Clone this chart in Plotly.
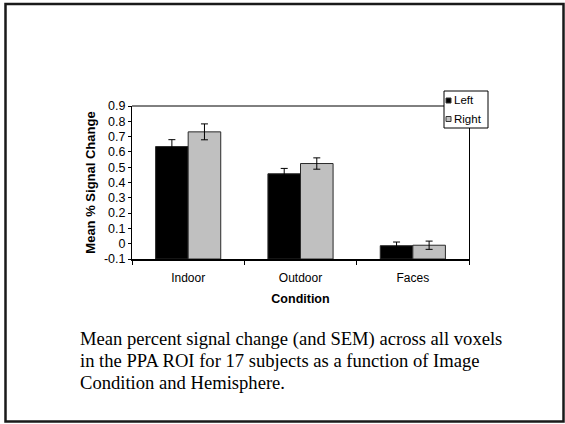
import plotly.graph_objects as go

# ---- data ----
conditions = ["Indoor", "Outdoor", "Faces"]
series_names = ["Left", "Right"]
left_vals = [0.635, 0.457, -0.013]
left_sem = [0.045, 0.035, 0.024]
right_vals = [0.731, 0.524, -0.010]
right_sem = [0.052, 0.037, 0.027]
series_colors = ["#000000", "#C0C0C0"]
y_min, y_max = -0.1, 0.9
y_ticks = [-0.1, 0, 0.1, 0.2, 0.3, 0.4, 0.5, 0.6, 0.7, 0.8, 0.9]
y_tick_labels = ["-0.1", "0", "0.1", "0.2", "0.3", "0.4", "0.5", "0.6", "0.7", "0.8", "0.9"]
caption_lines = [
    "Mean percent signal change (and SEM) across all voxels",
    "in the PPA ROI for 17 subjects as a function of Image",
    "Condition and Hemisphere.",
]

W, H = 565, 424
L, R, T, B = 132, 469, 106, 259  # plot area in pixels
PW, PH = R - L, B - T


def px2x(px):
    return (px - L) / PW


def py2y(py):
    return (B - py) / PH


fig = go.Figure()
for name, vals, sem, col in zip(series_names, [left_vals, right_vals],
                                [left_sem, right_sem], series_colors):
    # Excel-style: bars rise from the axis minimum
    fig.add_trace(go.Bar(
        x=conditions, y=[v - y_min for v in vals], base=y_min, name=name,
        marker=dict(color=col, line=dict(color="#2a2a2a", width=1)),
        error_y=dict(type="data", array=sem, visible=True,
                     color="#000000", thickness=1, width=3.5),
        showlegend=False,
    ))

shapes = []
annotations = []

# plot area top border
shapes.append(dict(type="line", xref="paper", yref="paper", x0=0, x1=1, y0=1, y1=1,
                   line=dict(color="black", width=1), layer="above"))
# outer slide frame
shapes.append(dict(type="rect", xref="paper", yref="paper",
                   x0=px2x(5.5), x1=px2x(563.5), y0=py2y(421.5), y1=py2y(4),
                   line=dict(color="#1a1a1a", width=2.5)))

# manual legend
lg_x0, lg_x1, lg_y0, lg_y1 = 444, 488, 91, 128
shapes.append(dict(type="rect", xref="paper", yref="paper",
                   x0=px2x(lg_x0), x1=px2x(lg_x1), y0=py2y(lg_y1), y1=py2y(lg_y0),
                   fillcolor="white", line=dict(color="black", width=1), layer="above"))
for i, (name, col) in enumerate(zip(series_names, series_colors)):
    cy = 100.5 + i * 18.5
    shapes.append(dict(type="rect", xref="paper", yref="paper",
                       x0=px2x(446), x1=px2x(451), y0=py2y(cy + 2.5), y1=py2y(cy - 2.5),
                       fillcolor=col, line=dict(color="#333333", width=1), layer="above"))
    annotations.append(dict(text=name, xref="paper", yref="paper",
                            x=px2x(452), y=py2y(cy), xanchor="left", yanchor="middle",
                            showarrow=False,
                            font=dict(family="Arial, Liberation Sans", size=11.5, color="black")))

# caption
for i, line in enumerate(caption_lines):
    annotations.append(dict(text=line, xref="paper", yref="paper",
                            x=px2x(78), y=py2y(338.5 + i * 21.8), xanchor="left", yanchor="middle",
                            showarrow=False,
                            font=dict(family="Liberation Serif, Times New Roman", size=18.6,
                                      color="black")))

fig.update_layout(
    width=W, height=H,
    margin=dict(l=L, r=W - R, t=T, b=H - B, pad=0),
    paper_bgcolor="white", plot_bgcolor="white",
    barmode="group", bargap=0.42, bargroupgap=0,
    font=dict(family="Arial, Liberation Sans", color="black", size=12),
    shapes=shapes, annotations=annotations,
    xaxis=dict(
        type="category", showline=True, linecolor="black", linewidth=1.5,
        ticks="outside", tickson="boundaries", ticklen=4, tickcolor="black",
        tickfont=dict(size=12), ticklabelstandoff=7,
        title=dict(text="<b>Condition</b>", font=dict(size=12.5), standoff=10),
        showgrid=False, zeroline=False,
    ),
    yaxis=dict(
        range=[y_min, y_max], tickvals=y_ticks, ticktext=y_tick_labels,
        showline=True, mirror=True, linecolor="black", linewidth=1,
        ticks="outside", ticklen=3, tickcolor="black",
        tickfont=dict(size=12.5),
        title=dict(text="<b>Mean % Signal Change</b>", font=dict(size=13), standoff=5),
        showgrid=False, zeroline=False,
    ),
)

fig.write_html("out.html", config={"displayModeBar": False},
               post_script="document.body.style.margin='0';document.body.style.overflow='hidden';")
